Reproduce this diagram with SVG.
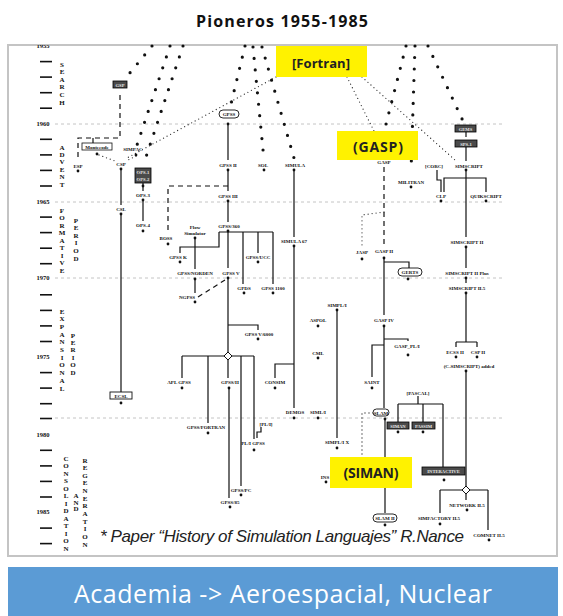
<svg xmlns="http://www.w3.org/2000/svg" width="563" height="616" viewBox="0 0 563 616">
<defs>
<clipPath id="fr"><rect x="8" y="45" width="549" height="511"/></clipPath>
</defs>
<style>
.t{font-family:"Liberation Serif",serif;font-size:5px;font-weight:bold;text-anchor:middle;fill:#111}
.tw{font-family:"Liberation Serif",serif;font-size:4.6px;font-weight:bold;text-anchor:middle;fill:#e8e8e8}
.yr{font-family:"Liberation Serif",serif;font-size:6.5px;font-weight:bold;text-anchor:middle;fill:#111}
.per{font-family:"Liberation Serif",serif;font-size:7px;font-weight:bold;text-anchor:middle;fill:#111}
.ln{fill:none;stroke:#111;stroke-width:1.2}
.dl{fill:none;stroke:#111;stroke-width:1.2;stroke-dasharray:5 4}
.big{fill:none;stroke:#111;stroke-width:3.2;stroke-linecap:round;stroke-dasharray:0 11.5}
.fine{fill:none;stroke:#333;stroke-width:1.3;stroke-linecap:round;stroke-dasharray:0 4}
.grid{stroke:#c4c4c4;stroke-width:1;stroke-dasharray:3 3}
.tick{stroke:#111;stroke-width:1.6}
.dot{fill:#111}
.dark{fill:#4a4a4a;stroke:#000;stroke-width:0.8}
.ov{fill:#fff;stroke:#111;stroke-width:0.9}
.yb{fill:#fff200}
.yt{font-family:"Open Sans","Liberation Sans",sans-serif;font-weight:bold;fill:#222;text-anchor:middle}
</style>
<rect width="563" height="616" fill="#fff"/>
<text x="282" y="27" font-family="Open Sans, Liberation Sans, sans-serif" font-weight="bold" font-size="16" text-anchor="middle" textLength="172" fill="#111">Pioneros 1955-1985</text>
<rect x="8" y="45" width="549" height="511" fill="#fff" stroke="#c4c4c4" stroke-width="2"/>

<g id="timeline">
<g clip-path="url(#fr)"><text class="yr" x="43" y="48">1955</text></g>
<text class="yr" x="43" y="126">1960</text>
<text class="yr" x="43" y="204">1965</text>
<text class="yr" x="43" y="280">1970</text>
<text class="yr" x="43" y="359">1975</text>
<text class="yr" x="43" y="437">1980</text>
<text class="yr" x="43" y="514">1985</text>
<g class="tick">
<line x1="40" x2="52" y1="61.6" y2="61.6"/><line x1="40" x2="52" y1="77.1" y2="77.1"/><line x1="40" x2="52" y1="92.7" y2="92.7"/><line x1="40" x2="52" y1="108.2" y2="108.2"/>
<line x1="40" x2="52" y1="139.3" y2="139.3"/><line x1="40" x2="52" y1="154.9" y2="154.9"/><line x1="40" x2="52" y1="170.4" y2="170.4"/><line x1="40" x2="52" y1="186" y2="186"/>
<line x1="40" x2="52" y1="217.1" y2="217.1"/><line x1="40" x2="52" y1="232.6" y2="232.6"/><line x1="40" x2="52" y1="248.2" y2="248.2"/><line x1="40" x2="52" y1="263.7" y2="263.7"/>
<line x1="40" x2="52" y1="294.8" y2="294.8"/><line x1="40" x2="52" y1="310.4" y2="310.4"/><line x1="40" x2="52" y1="325.9" y2="325.9"/><line x1="40" x2="52" y1="341.5" y2="341.5"/>
<line x1="40" x2="52" y1="372.6" y2="372.6"/><line x1="40" x2="52" y1="388.1" y2="388.1"/><line x1="40" x2="52" y1="403.7" y2="403.7"/><line x1="40" x2="52" y1="418.5" y2="418.5"/>
<line x1="40" x2="52" y1="450.3" y2="450.3"/><line x1="40" x2="52" y1="465.9" y2="465.9"/><line x1="40" x2="52" y1="481.4" y2="481.4"/><line x1="40" x2="52" y1="497" y2="497"/>
<line x1="40" x2="52" y1="528.1" y2="528.1"/><line x1="40" x2="52" y1="543.6" y2="543.6"/>
</g>
<g class="grid">
<line x1="55" x2="505" y1="124" y2="124"/>
<line x1="55" x2="505" y1="202" y2="202"/>
<line x1="55" x2="505" y1="278" y2="278"/>
<line x1="55" x2="505" y1="418" y2="418"/>
</g>
<text class="per"><tspan x="62" y="66.5">S</tspan><tspan x="62" y="74.1">E</tspan><tspan x="62" y="81.7">A</tspan><tspan x="62" y="89.3">R</tspan><tspan x="62" y="96.9">C</tspan><tspan x="62" y="104.5">H</tspan></text>
<text class="per"><tspan x="62" y="149.5">A</tspan><tspan x="62" y="156.9">D</tspan><tspan x="62" y="164.3">V</tspan><tspan x="62" y="171.7">E</tspan><tspan x="62" y="179.1">N</tspan><tspan x="62" y="186.5">T</tspan></text>
<text class="per"><tspan x="62" y="212.5">F</tspan><tspan x="62" y="220">O</tspan><tspan x="62" y="227.5">R</tspan><tspan x="62" y="235">M</tspan><tspan x="62" y="242.5">A</tspan><tspan x="62" y="250">T</tspan><tspan x="62" y="257.5">I</tspan><tspan x="62" y="265">V</tspan><tspan x="62" y="272.5">E</tspan></text>
<text class="per"><tspan x="76" y="222.5">P</tspan><tspan x="76" y="230.1">E</tspan><tspan x="76" y="237.7">R</tspan><tspan x="76" y="245.3">I</tspan><tspan x="76" y="252.9">O</tspan><tspan x="76" y="260.5">D</tspan></text>
<text class="per"><tspan x="62" y="313.5">E</tspan><tspan x="62" y="321.2">X</tspan><tspan x="62" y="328.9">P</tspan><tspan x="62" y="336.6">A</tspan><tspan x="62" y="344.3">N</tspan><tspan x="62" y="352">S</tspan><tspan x="62" y="359.7">I</tspan><tspan x="62" y="367.4">O</tspan><tspan x="62" y="375.1">N</tspan><tspan x="62" y="382.8">A</tspan><tspan x="62" y="390.5">L</tspan></text>
<text class="per"><tspan x="73" y="337.5">P</tspan><tspan x="73" y="344.9">E</tspan><tspan x="73" y="352.3">R</tspan><tspan x="73" y="359.7">I</tspan><tspan x="73" y="367.1">O</tspan><tspan x="73" y="374.5">D</tspan></text>
<text class="per"><tspan x="66" y="460.5">C</tspan><tspan x="66" y="468">O</tspan><tspan x="66" y="475.5">N</tspan><tspan x="66" y="483">S</tspan><tspan x="66" y="490.5">O</tspan><tspan x="66" y="498">L</tspan><tspan x="66" y="505.5">I</tspan><tspan x="66" y="513">D</tspan><tspan x="66" y="520.5">A</tspan><tspan x="66" y="528">T</tspan><tspan x="66" y="535.5">I</tspan><tspan x="66" y="543">O</tspan><tspan x="66" y="550.5">N</tspan></text>
<text class="per" font-size="5.5"><tspan x="76" y="498">A</tspan><tspan x="76" y="504.5">N</tspan><tspan x="76" y="511">D</tspan></text>
<text class="per"><tspan x="85" y="462.5">R</tspan><tspan x="85" y="470.1">E</tspan><tspan x="85" y="477.8">G</tspan><tspan x="85" y="485.4">E</tspan><tspan x="85" y="493">N</tspan><tspan x="85" y="500.7">E</tspan><tspan x="85" y="508.3">R</tspan><tspan x="85" y="515.9">A</tspan><tspan x="85" y="523.6">T</tspan><tspan x="85" y="531.2">I</tspan><tspan x="85" y="538.9">O</tspan><tspan x="85" y="546.5">N</tspan></text>
</g>

<g id="connectors">
<path class="big" d="M152,46 L124,80"/>
<path class="big" d="M170,46 L136,148"/>
<path class="big" d="M183,46 L143,166"/>
<path class="big" d="M245,46 L230,108"/>
<path class="big" d="M253,47 L264,160"/>
<path class="big" d="M262,47 L294,158"/>
<path class="big" d="M406,46 L385,128"/>
<path class="big" d="M415,46 L411,172"/>
<path class="big" d="M428,46 L463,121"/>
<path class="fine" d="M276,77 L127,158"/>
<path class="fine" d="M347,77 L374,131"/>
<path class="fine" d="M362,77 L455,160"/>
<path class="fine" d="M99,155 L115,161"/>
<path class="fine" d="M136,156 L126,161"/>
<path class="dl" d="M120,95 V138 H78 V160"/>
<path class="dl" d="M93,138 V143"/>
<path class="ln" d="M121,169 V205 M121,214 V392"/>
<path class="ln" d="M143,183 V191 M143,200 V221"/>
<path class="dl" d="M228,186 H168 V234"/>
<path class="ln" d="M228,124 V160 M228,170 V191 M228,201 V222 M228,231 V268 M228,278 V352"/>
<path class="ln" d="M219,232 H273 M243,232 V284 M258,232 V253 M273,232 V284 M219,232 V247 H180 V253"/>
<path class="ln" d="M195,238 V269 M195,279 V293"/>
<path class="dl" d="M198,297 L225,280"/>
<path class="ln" d="M228,325 H258 V330"/>
<path class="ln" d="M182,356 H224 M232,356 H254 M182,356 V378 M208,356 V423 M228,360 V378 M241,356 V486 M254,356 V439 M229,388 V498"/>
<path d="M228,352 L232,356 L228,360 L224,356 Z" fill="#fff" stroke="#111" stroke-width="1"/>
<path class="ln" stroke-width="0.9" d="M261,427 V432 H257 V438"/>
<path class="ln" d="M294,170 V237 M294,246 V408 M294,364 H275 V378"/>
<path class="ln" d="M337,310 V438"/>
<path class="fine" d="M373,413 H362 V457"/>
<path class="dl" d="M384,167 V246"/>
<path class="fine" d="M384,212 L362,215 V247"/>
<path class="ln" d="M384,258 V315 M384,262 H409 V268"/>
<path class="ln" d="M384,326 V408 M384,339 H408 V341 M384,345 H372 V377"/>
<path class="ln" d="M385,418 V513"/>
<path class="ln" d="M418,396 V404 M398,404 H443 M398,404 V422 M423,404 V422 M443,404 V467"/>
<path class="dl" d="M466,132 V140"/>
<path class="ln" d="M466,147 V161 M466,170 V237"/>
<path class="ln" d="M437,170 V180 H441 V192"/>
<path class="ln" d="M444,192 V178 H486 V192"/>
<path class="ln" d="M466,247 V268 M466,278 V283 M466,293 V342 M456,342 H477 M456,342 V347 M477,342 V347"/>
<path class="ln" d="M466,371 V486 M440,490 H462 M470,490 H488 M440,490 V513 M488,490 V530 M466,494 V500"/>
<path d="M466,486 L470,490 L466,494 L462,490 Z" fill="#fff" stroke="#111" stroke-width="1"/>
</g>

<g id="n-gsp"><rect class="dark" x="113" y="81" width="14" height="7"/><text class="tw" x="120" y="86.5">GSP</text></g>
<g id="n-montecode"><rect x="82" y="143" width="30" height="7" fill="#fff" stroke="#111" stroke-width="0.8"/><text class="t" x="97" y="148.5">Montecode</text><circle class="dot" cx="97" cy="154" r="1.4"/></g>
<g id="n-simpac"><text class="t" x="133" y="151">SIMPAC</text><circle class="dot" cx="136" cy="155" r="1.4"/></g>
<g id="n-csp"><text class="t" x="121" y="166">CSP</text><circle class="dot" cx="121" cy="169" r="1.4"/></g>
<g id="n-esp"><text class="t" x="78" y="168">ESP</text><circle class="dot" cx="78" cy="171" r="1.4"/></g>
<g id="n-ops12"><rect class="dark" x="135" y="168" width="16" height="15"/><text class="tw" x="143" y="174">OPS-1</text><text class="tw" x="143" y="180.5">OPS-2</text><circle class="dot" cx="143" cy="186" r="1.4"/></g>
<g id="n-ops3"><text class="t" x="143" y="197">OPS-3</text><circle class="dot" cx="143" cy="200" r="1.4"/></g>
<g id="n-ops4"><text class="t" x="143" y="227">OPS-4</text><circle class="dot" cx="143" cy="231" r="1.4"/></g>
<g id="n-csl"><text class="t" x="121" y="211">CSL</text><circle class="dot" cx="121" cy="214" r="1.4"/></g>
<g id="n-ecsl"><rect x="110" y="392" width="22" height="7" fill="#fff" stroke="#111" stroke-width="0.9"/><text class="t" x="121" y="397.5">ECSL</text><circle class="dot" cx="121" cy="403" r="1.4"/></g>
<g id="n-boss"><text class="t" x="166" y="240">BOSS</text><circle class="dot" cx="168" cy="244" r="1.4"/></g>
<g id="n-flow"><text class="t" x="195" y="229">Flow</text><text class="t" x="195" y="235">Simulator</text><circle class="dot" cx="195" cy="238" r="1.4"/></g>
<g id="n-gpss"><rect class="ov" x="219" y="110" width="20" height="8" rx="4"/><text class="t" x="229" y="116">GPSS</text><circle class="dot" cx="228" cy="124" r="1.4"/></g>
<g id="n-gpss2"><text class="t" x="228" y="167">GPSS II</text><circle class="dot" cx="228" cy="170" r="1.4"/></g>
<g id="n-gpss3"><text class="t" x="228" y="198">GPSS III</text><circle class="dot" cx="228" cy="201" r="1.4"/></g>
<g id="n-gpss360"><text class="t" x="229" y="228">GPSS/360</text><circle class="dot" cx="228" cy="231" r="1.4"/></g>
<g id="n-gpssk"><text class="t" x="178" y="259">GPSS K</text><circle class="dot" cx="180" cy="262" r="1.4"/></g>
<g id="n-gpssucc"><text class="t" x="258" y="259">GPSS/UCC</text><circle class="dot" cx="258" cy="262" r="1.4"/></g>
<g id="n-norden"><text class="t" x="195" y="275">GPSS/NORDEN</text><circle class="dot" cx="195" cy="279" r="1.4"/></g>
<g id="n-gpss5"><text class="t" x="231" y="275">GPSS V</text><circle class="dot" cx="228" cy="278" r="1.4"/></g>
<g id="n-ngpss"><text class="t" x="187" y="299">NGPSS</text><circle class="dot" cx="195" cy="302" r="1.4"/></g>
<g id="n-gpds"><text class="t" x="244" y="290">GPDS</text><circle class="dot" cx="244" cy="293" r="1.4"/></g>
<g id="n-gpss1100"><text class="t" x="273" y="290">GPSS 1100</text><circle class="dot" cx="273" cy="293" r="1.4"/></g>
<g id="n-gpss6000"><text class="t" x="259" y="336">GPSS V/6000</text><circle class="dot" cx="258" cy="339" r="1.4"/></g>
<g id="n-aplgpss"><text class="t" x="179" y="384">APL GPSS</text><circle class="dot" cx="182" cy="388" r="1.4"/></g>
<g id="n-gpssh"><text class="t" x="230" y="384">GPSS/H</text><circle class="dot" cx="229" cy="388" r="1.4"/></g>
<g id="n-consim"><text class="t" x="275" y="384">CONSIM</text><circle class="dot" cx="275" cy="388" r="1.4"/></g>
<g id="n-gpssfortran"><text class="t" x="206" y="429">GPSS/FORTRAN</text><circle class="dot" cx="208" cy="433" r="1.4"/></g>
<g id="n-pligpss"><text class="t" x="253" y="445">PL/I GPSS</text><circle class="dot" cx="254" cy="450" r="1.4"/></g>
<g id="n-pli"><text class="t" x="266" y="426">[PL/I]</text></g>
<g id="n-gpsspc"><text class="t" x="241" y="492">GPSS/PC</text><circle class="dot" cx="241" cy="495" r="1.4"/></g>
<g id="n-gpss85"><text class="t" x="230" y="504">GPSS/85</text><circle class="dot" cx="230" cy="507" r="1.4"/></g>
<g id="n-sol"><text class="t" x="263" y="167">SOL</text><circle class="dot" cx="264" cy="170" r="1.4"/></g>
<g id="n-simula"><text class="t" x="295" y="167">SIMULA</text><circle class="dot" cx="294" cy="170" r="1.4"/></g>
<g id="n-simula67"><text class="t" x="294" y="243">SIMULA 67</text><circle class="dot" cx="294" cy="246" r="1.4"/></g>
<g id="n-demos"><text class="t" x="295" y="414">DEMOS</text><circle class="dot" cx="294" cy="418" r="1.4"/></g>
<g id="n-simli"><text class="t" x="318" y="414">SIML/I</text><circle class="dot" cx="318" cy="418" r="1.4"/></g>
<g id="n-aspol"><text class="t" x="318" y="322">ASPOL</text><circle class="dot" cx="318" cy="326" r="1.4"/></g>
<g id="n-cml"><text class="t" x="318" y="355">CML</text><circle class="dot" cx="318" cy="358" r="1.4"/></g>
<g id="n-simpli"><text class="t" x="337" y="307">SIMPL/I</text><circle class="dot" cx="337" cy="310" r="1.4"/></g>
<g id="n-simplix"><text class="t" x="337" y="444">SIMPL/I X</text><circle class="dot" cx="337" cy="448" r="1.4"/></g>
<g id="n-ins"><text class="t" x="325" y="479">INS</text><circle class="dot" cx="326" cy="482" r="1.4"/></g>
<g id="n-jasp"><text class="t" x="362" y="254">JASP</text><circle class="dot" cx="362" cy="259" r="1.4"/></g>
<g id="n-gasp"><text class="t" x="384" y="164">GASP</text></g>
<g id="n-gasp2"><text class="t" x="384" y="253">GASP II</text><circle class="dot" cx="384" cy="258" r="1.4"/></g>
<g id="n-gerts"><rect class="ov" x="398" y="268" width="24" height="8" rx="4"/><text class="t" x="410" y="274">GERTS</text><circle class="dot" cx="408" cy="279" r="1.4"/></g>
<g id="n-gasp4"><text class="t" x="384" y="322">GASP IV</text><circle class="dot" cx="384" cy="326" r="1.4"/></g>
<g id="n-gasppli"><text class="t" x="407" y="348">GASP_PL/I</text><circle class="dot" cx="408" cy="355" r="1.4"/></g>
<g id="n-saint"><text class="t" x="372" y="384">SAINT</text><circle class="dot" cx="372" cy="388" r="1.4"/></g>
<g id="n-slam"><rect class="ov" x="373" y="409" width="16" height="7" rx="3.5"/><text class="t" x="381" y="414.5">SLAM</text><circle class="dot" cx="385" cy="419" r="1.4"/></g>
<g id="n-pascal"><text class="t" x="418" y="395">[PASCAL]</text></g>
<g id="n-simanb"><rect class="dark" x="387" y="422" width="22" height="7"/><text class="tw" x="398" y="427.5">SIMAN</text><circle class="dot" cx="398" cy="432" r="1.4"/></g>
<g id="n-passim"><rect class="dark" x="412" y="422" width="23" height="7"/><text class="tw" x="423.5" y="427.5">PASSIM</text><circle class="dot" cx="423" cy="432" r="1.4"/></g>
<g id="n-interactive"><rect class="dark" x="422" y="467" width="43" height="8"/><text class="tw" x="443.5" y="473">INTERACTIVE</text><circle class="dot" cx="444" cy="480" r="1.4"/></g>
<g id="n-slam2"><rect class="ov" x="373" y="514" width="24" height="8" rx="4"/><text class="t" x="385" y="520">SLAM II</text><circle class="dot" cx="385" cy="525" r="1.4"/></g>
<g id="n-militran"><text class="t" x="411" y="184">MILITRAN</text><circle class="dot" cx="411" cy="187" r="1.4"/></g>
<g id="n-corc"><text class="t" x="434" y="168">[CORC]</text></g>
<g id="n-clp"><text class="t" x="441" y="198">CLP</text><circle class="dot" cx="441" cy="201" r="1.4"/></g>
<g id="n-quikscript"><text class="t" x="486" y="198">QUIKSCRIPT</text><circle class="dot" cx="486" cy="201" r="1.4"/></g>
<g id="n-gems"><rect class="dark" x="455" y="125" width="21" height="7"/><text class="tw" x="465.5" y="130.5">GEMS</text></g>
<g id="n-sps1"><rect class="dark" x="455" y="140" width="22" height="7"/><text class="tw" x="466" y="145.5">SPS-1</text></g>
<g id="n-simscript"><text class="t" x="469" y="168">SIMSCRIPT</text><circle class="dot" cx="466" cy="170" r="1.4"/></g>
<g id="n-simscript2"><text class="t" x="467" y="244">SIMSCRIPT II</text><circle class="dot" cx="466" cy="247" r="1.4"/></g>
<g id="n-simscript2p"><text class="t" x="467" y="275">SIMSCRIPT II Plus</text><circle class="dot" cx="466" cy="278" r="1.4"/></g>
<g id="n-simscript25"><text class="t" x="467" y="290">SIMSCRIPT II.5</text><circle class="dot" cx="466" cy="293" r="1.4"/></g>
<g id="n-ecss2"><text class="t" x="455" y="354">ECSS II</text><circle class="dot" cx="456" cy="357" r="1.4"/></g>
<g id="n-csp2"><text class="t" x="478" y="354">CSP II</text><circle class="dot" cx="477" cy="357" r="1.4"/></g>
<g id="n-csimscript"><text class="t" x="469" y="368">(C-SIMSCRIPT) added</text><circle class="dot" cx="466" cy="371" r="1.4"/></g>
<g id="n-network"><text class="t" x="467" y="507">NETWORK II.5</text><circle class="dot" cx="467" cy="510" r="1.4"/></g>
<g id="n-simfactory"><text class="t" x="439" y="520">SIMFACTORY II.5</text><circle class="dot" cx="440" cy="524" r="1.4"/></g>
<g id="n-comnet"><text class="t" x="489" y="537">COMNET II.5</text><circle class="dot" cx="489" cy="540" r="1.4"/></g>

<g id="n-fortran"><rect class="yb" x="276" y="46" width="91" height="31"/><text class="yt" x="321" y="68" font-size="13" textLength="58">[Fortran]</text></g>
<g id="n-gaspy"><rect class="yb" x="337" y="131" width="81" height="29"/><text class="yt" x="378" y="152" font-size="14" textLength="50">(GASP)</text></g>
<g id="n-simany"><rect class="yb" x="330" y="457" width="82" height="31"/><text class="yt" x="371" y="478" font-size="14" textLength="55">(SIMAN)</text></g>

<text x="100" y="542" font-family="Liberation Sans, sans-serif" font-style="italic" font-size="17" fill="#222" textLength="364">* Paper “History of Simulation Languajes” R.Nance</text>

<g id="banner"><rect x="8" y="567" width="550" height="49" fill="#5b9bd5"/><text x="283" y="603" font-family="Open Sans, Liberation Sans, sans-serif" font-size="25" fill="#fff" text-anchor="middle" textLength="418">Academia -&gt; Aeroespacial, Nuclear</text></g>
</svg>
